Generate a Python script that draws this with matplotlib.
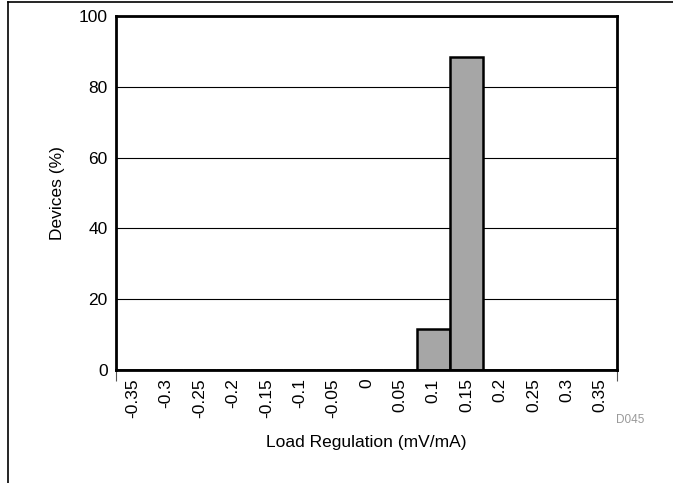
import matplotlib
matplotlib.use("Agg")
import matplotlib.pyplot as plt
import numpy as np

plt.rcParams['font.family'] = ['Liberation Sans', 'DejaVu Sans']

# histogram data
bins = ['-0.35', '-0.3', '-0.25', '-0.2', '-0.15', '-0.1', '-0.05', '0',
        '0.05', '0.1', '0.15', '0.2', '0.25', '0.3', '0.35']
devices = [0, 0, 0, 0, 0, 0, 0, 0, 0, 11.6, 88.4, 0, 0, 0, 0]
yticks = [0, 20, 40, 60, 80, 100]

fig = plt.figure(figsize=(6.73, 4.83), dpi=100)
ax = fig.add_axes([0.1724, 0.2340, 0.7444, 0.7329])

x = np.arange(len(bins))
ax.bar(x, devices, width=1.0, color='#a6a6a6', edgecolor='black', linewidth=1.8, zorder=3)

ax.set_xlim(-0.5, len(bins) - 0.5)
ax.set_ylim(0, 100)
ax.set_yticks(yticks)
ax.set_yticklabels([str(v) for v in yticks], fontsize=12.5)
ax.tick_params(axis='y', length=0, pad=6)
ax.set_xticks(x)
ax.set_xticklabels(bins, rotation=90, fontsize=12.5)
ax.tick_params(axis='x', length=0, pad=6)
# ticks at the outer bin edges
ax.set_xticks([-0.5, len(bins) - 0.5], minor=True)
ax.tick_params(axis='x', which='minor', length=8, width=0.8, color='#555555', direction='out')

ax.grid(axis='y', color='black', linewidth=0.8, zorder=0)
for s in ax.spines.values():
    s.set_linewidth(2)
    s.set_zorder(4)

ax.set_ylabel('Devices (%)', fontsize=12.5, labelpad=10)
ax.set_xlabel('Load Regulation (mV/mA)', fontsize=12.5, labelpad=12)

fig.text(0.936, 0.13, 'D045', fontsize=8.5, color='#999999', ha='center', va='center')

# outer frame (left and top edges)
fig.add_artist(plt.Line2D([0.012, 0.012], [0, 0.996], color='black', linewidth=1.2))
fig.add_artist(plt.Line2D([0.012, 1.0], [0.996, 0.996], color='black', linewidth=1.2))

fig.savefig('out.png', dpi=100)
